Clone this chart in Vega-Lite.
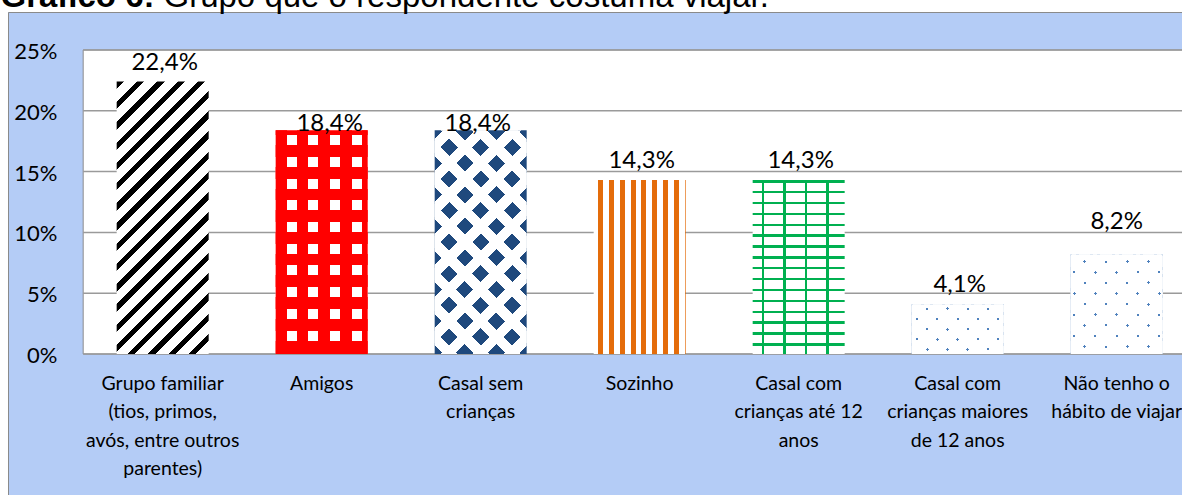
{
  "$schema": "https://vega.github.io/schema/vega-lite/v6.json",
  "width": 1174,
  "height": 483,
  "autosize": "none",
  "padding": {"left": 8, "top": 12, "right": 0, "bottom": 0},
  "background": "#ffffff",
  "config": {
    "view": {"fill": "#b4ccf6", "stroke": null},
    "locale": {"number": {"decimal": ",", "thousands": ".", "grouping": [3], "currency": ["R$", ""]}},
    "font": "Lato"
  },
  "datasets": {
    "bars": [
      {"cat": "Grupo familiar (tios, primos, avós, entre outros parentes)", "pct": 0.224},
      {"cat": "Amigos", "pct": 0.184},
      {"cat": "Casal sem crianças", "pct": 0.184},
      {"cat": "Sozinho", "pct": 0.143},
      {"cat": "Casal com crianças até 12 anos", "pct": 0.143},
      {"cat": "Casal com crianças maiores de 12 anos", "pct": 0.041},
      {"cat": "Não tenho o hábito de viajar", "pct": 0.082}
    ],
    "grid": [{"v": 0}, {"v": 0.05}, {"v": 0.1}, {"v": 0.15}, {"v": 0.2}, {"v": 0.25}],
    "frame": [{"part": "plot area"}]
  },
  "resolve": {"axis": {"x": "independent", "y": "independent"}},
  "layer": [
    {
      "data": {"name": "frame"},
      "mark": {"type": "rect", "fill": "#ffffff", "stroke": "#8c8c8c", "strokeWidth": 1},
      "encoding": {
        "x": {
          "datum": "Grupo familiar (tios, primos, avós, entre outros parentes)", "type": "nominal", "bandPosition": -0.3641,
          "scale": {"domain": ["Grupo familiar (tios, primos, avós, entre outros parentes)", "Amigos", "Casal sem crianças", "Sozinho", "Casal com crianças até 12 anos", "Casal com crianças maiores de 12 anos", "Não tenho o hábito de viajar"], "paddingInner": 0.42138, "paddingOuter": 0.40252, "align": 0.849, "round": false},
          "axis": {"orient": "top", "domain": true, "domainColor": "#8a8a8a", "domainWidth": 1, "labels": false, "ticks": false, "grid": false,
            "title": "Grupo que o respondente costuma viajar.", "titleX": 155, "titleY": -6, "titleAlign": "left", "titleAnchor": "start", "titleBaseline": "alphabetic",
            "titleFont": "Liberation Sans", "titleFontSize": 33, "titleFontWeight": "normal", "titleColor": "#000000", "titlePadding": 0}
        },
        "x2": {"datum": "Não tenho o hábito de viajar", "bandPosition": 1.3641},
        "y": {
          "datum": 0.25, "type": "quantitative",
          "scale": {"domain": [-0.115954, 0.28125], "nice": false, "zero": false},
          "axis": {"orient": "left", "domain": true, "domainColor": "#8a8a8a", "domainWidth": 1, "ticks": false, "tickSize": 0, "grid": false,
            "values": [0, 0.05, 0.1, 0.15, 0.2, 0.25], "format": ".0%", "labelPadding": -49, "labelFont": "Lato", "labelFontSize": 22, "labelColor": "#000000",
            "labelBaseline": "middle", "labelOffset": 1.5, "labelBound": false, "labelFlush": false, "labelOverlap": false,
            "title": "Gráfico 6:", "titleAngle": 0, "titleX": -8, "titleY": -6, "titleAlign": "left", "titleBaseline": "alphabetic",
            "titleFont": "Liberation Sans", "titleFontSize": 33, "titleFontWeight": "bold", "titleColor": "#000000", "titlePadding": 0}
        },
        "y2": {"datum": 0}
      }
    },
    {
      "data": {"name": "grid"},
      "mark": {"type": "rule", "stroke": "#9a9a9a", "strokeWidth": 1.5},
      "encoding": {
        "x": {
          "datum": "Grupo familiar (tios, primos, avós, entre outros parentes)", "type": "nominal", "bandPosition": -0.3641,
          "scale": {"domain": ["Grupo familiar (tios, primos, avós, entre outros parentes)", "Amigos", "Casal sem crianças", "Sozinho", "Casal com crianças até 12 anos", "Casal com crianças maiores de 12 anos", "Não tenho o hábito de viajar"], "paddingInner": 0.42138, "paddingOuter": 0.40252, "align": 0.849, "round": false},
          "axis": null
        },
        "x2": {"datum": "Não tenho o hábito de viajar", "bandPosition": 1.3641},
        "y": {"field": "v", "type": "quantitative", "scale": {"domain": [-0.115954, 0.28125], "nice": false, "zero": false}, "axis": null}
      }
    },
    {
      "data": {"name": "bars"},
      "mark": {"type": "bar"},
      "encoding": {
        "x": {
          "field": "cat", "type": "nominal",
          "scale": {"domain": ["Grupo familiar (tios, primos, avós, entre outros parentes)", "Amigos", "Casal sem crianças", "Sozinho", "Casal com crianças até 12 anos", "Casal com crianças maiores de 12 anos", "Não tenho o hábito de viajar"], "paddingInner": 0.42138, "paddingOuter": 0.40252, "align": 0.849, "round": false},
          "axis": {"orient": "bottom", "domain": false, "ticks": false, "tickSize": 0, "grid": false, "title": null, "labelAngle": 0, "labelAlign": "center", "labelBaseline": "top",
            "labelPadding": -121, "labelFont": "Lato", "labelFontSize": 19.5, "labelColor": "#000000", "labelLineHeight": 28.5, "labelLimit": 0, "labelOverlap": false, "labelBound": false, "labelFlush": false,
            "labelExpr": "{'Grupo familiar (tios, primos, avós, entre outros parentes)': ['Grupo familiar', '(tios, primos,', 'avós, entre outros', 'parentes)'], 'Amigos': ['Amigos'], 'Casal sem crianças': ['Casal sem', 'crianças'], 'Sozinho': ['Sozinho'], 'Casal com crianças até 12 anos': ['Casal com', 'crianças até 12', 'anos'], 'Casal com crianças maiores de 12 anos': ['Casal com', 'crianças maiores', 'de 12 anos'], 'Não tenho o hábito de viajar': ['Não tenho o', 'hábito de viajar']}[datum.label]"}
        },
        "y": {"field": "pct", "type": "quantitative", "scale": {"domain": [-0.115954, 0.28125], "nice": false, "zero": false}, "axis": null},
        "y2": {"datum": 0},
        "color": {
          "condition": [
            {"test": "datum.cat === 'Grupo familiar (tios, primos, avós, entre outros parentes)'", "value": {"gradient": "linear", "x1": 0, "y1": 0, "x2": 0.4056, "y2": 1.2008, "stops": [
              {"offset": 0, "color": "#000000"}, {"offset": 0.02, "color": "#000000"}, {"offset": 0.02, "color": "#ffffff"}, {"offset": 0.05556, "color": "#ffffff"},
              {"offset": 0.05556, "color": "#000000"}, {"offset": 0.07556, "color": "#000000"}, {"offset": 0.07556, "color": "#ffffff"}, {"offset": 0.11111, "color": "#ffffff"},
              {"offset": 0.11111, "color": "#000000"}, {"offset": 0.13111, "color": "#000000"}, {"offset": 0.13111, "color": "#ffffff"}, {"offset": 0.16667, "color": "#ffffff"},
              {"offset": 0.16667, "color": "#000000"}, {"offset": 0.18667, "color": "#000000"}, {"offset": 0.18667, "color": "#ffffff"}, {"offset": 0.22222, "color": "#ffffff"},
              {"offset": 0.22222, "color": "#000000"}, {"offset": 0.24222, "color": "#000000"}, {"offset": 0.24222, "color": "#ffffff"}, {"offset": 0.27778, "color": "#ffffff"},
              {"offset": 0.27778, "color": "#000000"}, {"offset": 0.29778, "color": "#000000"}, {"offset": 0.29778, "color": "#ffffff"}, {"offset": 0.33333, "color": "#ffffff"},
              {"offset": 0.33333, "color": "#000000"}, {"offset": 0.35333, "color": "#000000"}, {"offset": 0.35333, "color": "#ffffff"}, {"offset": 0.38889, "color": "#ffffff"},
              {"offset": 0.38889, "color": "#000000"}, {"offset": 0.40889, "color": "#000000"}, {"offset": 0.40889, "color": "#ffffff"}, {"offset": 0.44444, "color": "#ffffff"},
              {"offset": 0.44444, "color": "#000000"}, {"offset": 0.46444, "color": "#000000"}, {"offset": 0.46444, "color": "#ffffff"}, {"offset": 0.5, "color": "#ffffff"},
              {"offset": 0.5, "color": "#000000"}, {"offset": 0.52, "color": "#000000"}, {"offset": 0.52, "color": "#ffffff"}, {"offset": 0.55556, "color": "#ffffff"},
              {"offset": 0.55556, "color": "#000000"}, {"offset": 0.57556, "color": "#000000"}, {"offset": 0.57556, "color": "#ffffff"}, {"offset": 0.61111, "color": "#ffffff"},
              {"offset": 0.61111, "color": "#000000"}, {"offset": 0.63111, "color": "#000000"}, {"offset": 0.63111, "color": "#ffffff"}, {"offset": 0.66667, "color": "#ffffff"},
              {"offset": 0.66667, "color": "#000000"}, {"offset": 0.68667, "color": "#000000"}, {"offset": 0.68667, "color": "#ffffff"}, {"offset": 0.72222, "color": "#ffffff"},
              {"offset": 0.72222, "color": "#000000"}, {"offset": 0.74222, "color": "#000000"}, {"offset": 0.74222, "color": "#ffffff"}, {"offset": 0.77778, "color": "#ffffff"},
              {"offset": 0.77778, "color": "#000000"}, {"offset": 0.79778, "color": "#000000"}, {"offset": 0.79778, "color": "#ffffff"}, {"offset": 0.83333, "color": "#ffffff"},
              {"offset": 0.83333, "color": "#000000"}, {"offset": 0.85333, "color": "#000000"}, {"offset": 0.85333, "color": "#ffffff"}, {"offset": 0.88889, "color": "#ffffff"},
              {"offset": 0.88889, "color": "#000000"}, {"offset": 0.90889, "color": "#000000"}, {"offset": 0.90889, "color": "#ffffff"}, {"offset": 0.94444, "color": "#ffffff"},
              {"offset": 0.94444, "color": "#000000"}, {"offset": 0.96444, "color": "#000000"}, {"offset": 0.96444, "color": "#ffffff"}, {"offset": 1, "color": "#ffffff"}
            ]}},
            {"test": "datum.cat === 'Casal sem crianças'", "value": "#1f497d"},
            {"test": "datum.cat === 'Sozinho'", "value": {"gradient": "linear", "x1": 0, "y1": 0, "x2": 1, "y2": 0, "stops": [
              {"offset": 0, "color": "#ffffff"}, {"offset": 0.0489, "color": "#ffffff"}, {"offset": 0.0489, "color": "#e46c0a"}, {"offset": 0.1033, "color": "#e46c0a"},
              {"offset": 0.1033, "color": "#ffffff"}, {"offset": 0.1663, "color": "#ffffff"}, {"offset": 0.1663, "color": "#e46c0a"}, {"offset": 0.2207, "color": "#e46c0a"},
              {"offset": 0.2207, "color": "#ffffff"}, {"offset": 0.2837, "color": "#ffffff"}, {"offset": 0.2837, "color": "#e46c0a"}, {"offset": 0.338, "color": "#e46c0a"},
              {"offset": 0.338, "color": "#ffffff"}, {"offset": 0.4011, "color": "#ffffff"}, {"offset": 0.4011, "color": "#e46c0a"}, {"offset": 0.4554, "color": "#e46c0a"},
              {"offset": 0.4554, "color": "#ffffff"}, {"offset": 0.5185, "color": "#ffffff"}, {"offset": 0.5185, "color": "#e46c0a"}, {"offset": 0.5728, "color": "#e46c0a"},
              {"offset": 0.5728, "color": "#ffffff"}, {"offset": 0.6359, "color": "#ffffff"}, {"offset": 0.6359, "color": "#e46c0a"}, {"offset": 0.6902, "color": "#e46c0a"},
              {"offset": 0.6902, "color": "#ffffff"}, {"offset": 0.7533, "color": "#ffffff"}, {"offset": 0.7533, "color": "#e46c0a"}, {"offset": 0.8076, "color": "#e46c0a"},
              {"offset": 0.8076, "color": "#ffffff"}, {"offset": 0.8707, "color": "#ffffff"}, {"offset": 0.8707, "color": "#e46c0a"}, {"offset": 0.925, "color": "#e46c0a"},
              {"offset": 0.925, "color": "#ffffff"}, {"offset": 0.988, "color": "#ffffff"}, {"offset": 0.988, "color": "#e46c0a"}, {"offset": 1, "color": "#e46c0a"}
            ]}},
            {"test": "datum.cat === 'Casal com crianças maiores de 12 anos' || datum.cat === 'Não tenho o hábito de viajar'", "value": "#4f81bd"}
          ],
          "value": "#ffffff"
        }
      }
    },
    {
      "data": {"name": "bars"},
      "transform": [{"filter": {"field": "cat", "oneOf": ["Amigos", "Casal sem crianças", "Casal com crianças até 12 anos", "Casal com crianças maiores de 12 anos", "Não tenho o hábito de viajar"]}}],
      "mark": {"type": "bar"},
      "encoding": {
        "x": {"field": "cat", "type": "nominal",
          "scale": {"domain": ["Grupo familiar (tios, primos, avós, entre outros parentes)", "Amigos", "Casal sem crianças", "Sozinho", "Casal com crianças até 12 anos", "Casal com crianças maiores de 12 anos", "Não tenho o hábito de viajar"], "paddingInner": 0.42138, "paddingOuter": 0.40252, "align": 0.849, "round": false},
          "axis": null},
        "y": {"field": "pct", "type": "quantitative", "scale": {"domain": [-0.115954, 0.28125], "nice": false, "zero": false}, "axis": null},
        "y2": {"datum": 0},
        "color": {
          "condition": [
            {"test": "datum.cat === 'Amigos'", "value": {"gradient": "linear", "x1": 0, "y1": 0, "x2": 1, "y2": 0, "stops": [
              {"offset": 0, "color": "#ff0000"}, {"offset": 0.1196, "color": "#ff0000"}, {"offset": 0.1196, "color": "rgba(255,0,0,0)"}, {"offset": 0.2283, "color": "rgba(255,0,0,0)"},
              {"offset": 0.2283, "color": "#ff0000"}, {"offset": 0.3549, "color": "#ff0000"}, {"offset": 0.3549, "color": "rgba(255,0,0,0)"}, {"offset": 0.4636, "color": "rgba(255,0,0,0)"},
              {"offset": 0.4636, "color": "#ff0000"}, {"offset": 0.5902, "color": "#ff0000"}, {"offset": 0.5902, "color": "rgba(255,0,0,0)"}, {"offset": 0.6989, "color": "rgba(255,0,0,0)"},
              {"offset": 0.6989, "color": "#ff0000"}, {"offset": 0.8255, "color": "#ff0000"}, {"offset": 0.8255, "color": "rgba(255,0,0,0)"}, {"offset": 0.9342, "color": "rgba(255,0,0,0)"},
              {"offset": 0.9342, "color": "#ff0000"}, {"offset": 1, "color": "#ff0000"}
            ]}},
            {"test": "datum.cat === 'Casal sem crianças'", "value": {"gradient": "linear", "x1": 0, "y1": 0, "x2": 0.4963, "y2": 1.2071, "stops": [
              {"offset": 0, "color": "rgba(255,255,255,0)"}, {"offset": 0.027, "color": "rgba(255,255,255,0)"}, {"offset": 0.027, "color": "#ffffff"}, {"offset": 0.073, "color": "#ffffff"},
              {"offset": 0.073, "color": "rgba(255,255,255,0)"}, {"offset": 0.127, "color": "rgba(255,255,255,0)"}, {"offset": 0.127, "color": "#ffffff"}, {"offset": 0.173, "color": "#ffffff"},
              {"offset": 0.173, "color": "rgba(255,255,255,0)"}, {"offset": 0.227, "color": "rgba(255,255,255,0)"}, {"offset": 0.227, "color": "#ffffff"}, {"offset": 0.273, "color": "#ffffff"},
              {"offset": 0.273, "color": "rgba(255,255,255,0)"}, {"offset": 0.327, "color": "rgba(255,255,255,0)"}, {"offset": 0.327, "color": "#ffffff"}, {"offset": 0.373, "color": "#ffffff"},
              {"offset": 0.373, "color": "rgba(255,255,255,0)"}, {"offset": 0.427, "color": "rgba(255,255,255,0)"}, {"offset": 0.427, "color": "#ffffff"}, {"offset": 0.473, "color": "#ffffff"},
              {"offset": 0.473, "color": "rgba(255,255,255,0)"}, {"offset": 0.527, "color": "rgba(255,255,255,0)"}, {"offset": 0.527, "color": "#ffffff"}, {"offset": 0.573, "color": "#ffffff"},
              {"offset": 0.573, "color": "rgba(255,255,255,0)"}, {"offset": 0.627, "color": "rgba(255,255,255,0)"}, {"offset": 0.627, "color": "#ffffff"}, {"offset": 0.673, "color": "#ffffff"},
              {"offset": 0.673, "color": "rgba(255,255,255,0)"}, {"offset": 0.727, "color": "rgba(255,255,255,0)"}, {"offset": 0.727, "color": "#ffffff"}, {"offset": 0.773, "color": "#ffffff"},
              {"offset": 0.773, "color": "rgba(255,255,255,0)"}, {"offset": 0.827, "color": "rgba(255,255,255,0)"}, {"offset": 0.827, "color": "#ffffff"}, {"offset": 0.873, "color": "#ffffff"},
              {"offset": 0.873, "color": "rgba(255,255,255,0)"}, {"offset": 0.927, "color": "rgba(255,255,255,0)"}, {"offset": 0.927, "color": "#ffffff"}, {"offset": 0.973, "color": "#ffffff"},
              {"offset": 0.973, "color": "rgba(255,255,255,0)"}, {"offset": 1, "color": "rgba(255,255,255,0)"}
            ]}},
            {"test": "datum.cat === 'Casal com crianças até 12 anos'", "value": {"gradient": "linear", "x1": 0, "y1": 0, "x2": 0, "y2": 1, "stops": [
              {"offset": 0, "color": "#00b050"}, {"offset": 0.0138, "color": "#00b050"}, {"offset": 0.0138, "color": "rgba(0,176,80,0)"}, {"offset": 0.0625, "color": "rgba(0,176,80,0)"},
              {"offset": 0.0625, "color": "#00b050"}, {"offset": 0.0763, "color": "#00b050"}, {"offset": 0.0763, "color": "rgba(0,176,80,0)"}, {"offset": 0.125, "color": "rgba(0,176,80,0)"},
              {"offset": 0.125, "color": "#00b050"}, {"offset": 0.1388, "color": "#00b050"}, {"offset": 0.1388, "color": "rgba(0,176,80,0)"}, {"offset": 0.1875, "color": "rgba(0,176,80,0)"},
              {"offset": 0.1875, "color": "#00b050"}, {"offset": 0.2013, "color": "#00b050"}, {"offset": 0.2013, "color": "rgba(0,176,80,0)"}, {"offset": 0.25, "color": "rgba(0,176,80,0)"},
              {"offset": 0.25, "color": "#00b050"}, {"offset": 0.2638, "color": "#00b050"}, {"offset": 0.2638, "color": "rgba(0,176,80,0)"}, {"offset": 0.3125, "color": "rgba(0,176,80,0)"},
              {"offset": 0.3125, "color": "#00b050"}, {"offset": 0.3263, "color": "#00b050"}, {"offset": 0.3263, "color": "rgba(0,176,80,0)"}, {"offset": 0.375, "color": "rgba(0,176,80,0)"},
              {"offset": 0.375, "color": "#00b050"}, {"offset": 0.3888, "color": "#00b050"}, {"offset": 0.3888, "color": "rgba(0,176,80,0)"}, {"offset": 0.4375, "color": "rgba(0,176,80,0)"},
              {"offset": 0.4375, "color": "#00b050"}, {"offset": 0.4513, "color": "#00b050"}, {"offset": 0.4513, "color": "rgba(0,176,80,0)"}, {"offset": 0.5, "color": "rgba(0,176,80,0)"},
              {"offset": 0.5, "color": "#00b050"}, {"offset": 0.5138, "color": "#00b050"}, {"offset": 0.5138, "color": "rgba(0,176,80,0)"}, {"offset": 0.5625, "color": "rgba(0,176,80,0)"},
              {"offset": 0.5625, "color": "#00b050"}, {"offset": 0.5763, "color": "#00b050"}, {"offset": 0.5763, "color": "rgba(0,176,80,0)"}, {"offset": 0.625, "color": "rgba(0,176,80,0)"},
              {"offset": 0.625, "color": "#00b050"}, {"offset": 0.6388, "color": "#00b050"}, {"offset": 0.6388, "color": "rgba(0,176,80,0)"}, {"offset": 0.6875, "color": "rgba(0,176,80,0)"},
              {"offset": 0.6875, "color": "#00b050"}, {"offset": 0.7013, "color": "#00b050"}, {"offset": 0.7013, "color": "rgba(0,176,80,0)"}, {"offset": 0.75, "color": "rgba(0,176,80,0)"},
              {"offset": 0.75, "color": "#00b050"}, {"offset": 0.7638, "color": "#00b050"}, {"offset": 0.7638, "color": "rgba(0,176,80,0)"}, {"offset": 0.8125, "color": "rgba(0,176,80,0)"},
              {"offset": 0.8125, "color": "#00b050"}, {"offset": 0.8263, "color": "#00b050"}, {"offset": 0.8263, "color": "rgba(0,176,80,0)"}, {"offset": 0.875, "color": "rgba(0,176,80,0)"},
              {"offset": 0.875, "color": "#00b050"}, {"offset": 0.8888, "color": "#00b050"}, {"offset": 0.8888, "color": "rgba(0,176,80,0)"}, {"offset": 0.9375, "color": "rgba(0,176,80,0)"},
              {"offset": 0.9375, "color": "#00b050"}, {"offset": 0.9513, "color": "#00b050"}, {"offset": 0.9513, "color": "rgba(0,176,80,0)"}, {"offset": 1, "color": "rgba(0,176,80,0)"}
            ]}},
            {"test": "datum.cat === 'Casal com crianças maiores de 12 anos'", "value": {"gradient": "linear", "x1": 0, "y1": 0, "x2": 1.1919, "y2": 0.6459, "stops": [
              {"offset": 0, "color": "rgba(255,255,255,0)"}, {"offset": 0.01057, "color": "rgba(255,255,255,0)"}, {"offset": 0.01057, "color": "#ffffff"}, {"offset": 0.13229, "color": "#ffffff"},
              {"offset": 0.13229, "color": "rgba(255,255,255,0)"}, {"offset": 0.15343, "color": "rgba(255,255,255,0)"}, {"offset": 0.15343, "color": "#ffffff"}, {"offset": 0.27514, "color": "#ffffff"},
              {"offset": 0.27514, "color": "rgba(255,255,255,0)"}, {"offset": 0.29628, "color": "rgba(255,255,255,0)"}, {"offset": 0.29628, "color": "#ffffff"}, {"offset": 0.418, "color": "#ffffff"},
              {"offset": 0.418, "color": "rgba(255,255,255,0)"}, {"offset": 0.43914, "color": "rgba(255,255,255,0)"}, {"offset": 0.43914, "color": "#ffffff"}, {"offset": 0.56086, "color": "#ffffff"},
              {"offset": 0.56086, "color": "rgba(255,255,255,0)"}, {"offset": 0.582, "color": "rgba(255,255,255,0)"}, {"offset": 0.582, "color": "#ffffff"}, {"offset": 0.70372, "color": "#ffffff"},
              {"offset": 0.70372, "color": "rgba(255,255,255,0)"}, {"offset": 0.72486, "color": "rgba(255,255,255,0)"}, {"offset": 0.72486, "color": "#ffffff"}, {"offset": 0.84657, "color": "#ffffff"},
              {"offset": 0.84657, "color": "rgba(255,255,255,0)"}, {"offset": 0.86771, "color": "rgba(255,255,255,0)"}, {"offset": 0.86771, "color": "#ffffff"}, {"offset": 0.98943, "color": "#ffffff"},
              {"offset": 0.98943, "color": "rgba(255,255,255,0)"}, {"offset": 1, "color": "rgba(255,255,255,0)"}
            ]}},
            {"test": "datum.cat === 'Não tenho o hábito de viajar'", "value": {"gradient": "linear", "x1": 0, "y1": 0, "x2": 0.9582, "y2": 1.0385, "stops": [
              {"offset": 0, "color": "rgba(255,255,255,0)"}, {"offset": 0.00782, "color": "rgba(255,255,255,0)"}, {"offset": 0.00782, "color": "#ffffff"}, {"offset": 0.10329, "color": "#ffffff"},
              {"offset": 0.10329, "color": "rgba(255,255,255,0)"}, {"offset": 0.11893, "color": "rgba(255,255,255,0)"}, {"offset": 0.11893, "color": "#ffffff"}, {"offset": 0.2144, "color": "#ffffff"},
              {"offset": 0.2144, "color": "rgba(255,255,255,0)"}, {"offset": 0.23004, "color": "rgba(255,255,255,0)"}, {"offset": 0.23004, "color": "#ffffff"}, {"offset": 0.32551, "color": "#ffffff"},
              {"offset": 0.32551, "color": "rgba(255,255,255,0)"}, {"offset": 0.34115, "color": "rgba(255,255,255,0)"}, {"offset": 0.34115, "color": "#ffffff"}, {"offset": 0.43662, "color": "#ffffff"},
              {"offset": 0.43662, "color": "rgba(255,255,255,0)"}, {"offset": 0.45226, "color": "rgba(255,255,255,0)"}, {"offset": 0.45226, "color": "#ffffff"}, {"offset": 0.54774, "color": "#ffffff"},
              {"offset": 0.54774, "color": "rgba(255,255,255,0)"}, {"offset": 0.56338, "color": "rgba(255,255,255,0)"}, {"offset": 0.56338, "color": "#ffffff"}, {"offset": 0.65885, "color": "#ffffff"},
              {"offset": 0.65885, "color": "rgba(255,255,255,0)"}, {"offset": 0.67449, "color": "rgba(255,255,255,0)"}, {"offset": 0.67449, "color": "#ffffff"}, {"offset": 0.76996, "color": "#ffffff"},
              {"offset": 0.76996, "color": "rgba(255,255,255,0)"}, {"offset": 0.7856, "color": "rgba(255,255,255,0)"}, {"offset": 0.7856, "color": "#ffffff"}, {"offset": 0.88107, "color": "#ffffff"},
              {"offset": 0.88107, "color": "rgba(255,255,255,0)"}, {"offset": 0.89671, "color": "rgba(255,255,255,0)"}, {"offset": 0.89671, "color": "#ffffff"}, {"offset": 0.99218, "color": "#ffffff"},
              {"offset": 0.99218, "color": "rgba(255,255,255,0)"}, {"offset": 1, "color": "rgba(255,255,255,0)"}
            ]}}
          ],
          "value": "rgba(255,255,255,0)"
        }
      }
    },
    {
      "data": {"name": "bars"},
      "transform": [{"filter": {"field": "cat", "oneOf": ["Amigos", "Casal sem crianças", "Casal com crianças até 12 anos", "Casal com crianças maiores de 12 anos", "Não tenho o hábito de viajar"]}}],
      "mark": {"type": "bar"},
      "encoding": {
        "x": {"field": "cat", "type": "nominal",
          "scale": {"domain": ["Grupo familiar (tios, primos, avós, entre outros parentes)", "Amigos", "Casal sem crianças", "Sozinho", "Casal com crianças até 12 anos", "Casal com crianças maiores de 12 anos", "Não tenho o hábito de viajar"], "paddingInner": 0.42138, "paddingOuter": 0.40252, "align": 0.849, "round": false},
          "axis": null},
        "y": {"field": "pct", "type": "quantitative", "scale": {"domain": [-0.115954, 0.28125], "nice": false, "zero": false}, "axis": null},
        "y2": {"datum": 0},
        "color": {
          "condition": [
            {"test": "datum.cat === 'Amigos'", "value": {"gradient": "linear", "x1": 0, "y1": 0, "x2": 0, "y2": 1, "stops": [
              {"offset": 0, "color": "#ff0000"}, {"offset": 0.0223, "color": "#ff0000"}, {"offset": 0.0223, "color": "rgba(255,0,0,0)"}, {"offset": 0.0671, "color": "rgba(255,0,0,0)"},
              {"offset": 0.0671, "color": "#ff0000"}, {"offset": 0.1193, "color": "#ff0000"}, {"offset": 0.1193, "color": "rgba(255,0,0,0)"}, {"offset": 0.1641, "color": "rgba(255,0,0,0)"},
              {"offset": 0.1641, "color": "#ff0000"}, {"offset": 0.2163, "color": "#ff0000"}, {"offset": 0.2163, "color": "rgba(255,0,0,0)"}, {"offset": 0.2611, "color": "rgba(255,0,0,0)"},
              {"offset": 0.2611, "color": "#ff0000"}, {"offset": 0.3133, "color": "#ff0000"}, {"offset": 0.3133, "color": "rgba(255,0,0,0)"}, {"offset": 0.3581, "color": "rgba(255,0,0,0)"},
              {"offset": 0.3581, "color": "#ff0000"}, {"offset": 0.4103, "color": "#ff0000"}, {"offset": 0.4103, "color": "rgba(255,0,0,0)"}, {"offset": 0.4551, "color": "rgba(255,0,0,0)"},
              {"offset": 0.4551, "color": "#ff0000"}, {"offset": 0.5073, "color": "#ff0000"}, {"offset": 0.5073, "color": "rgba(255,0,0,0)"}, {"offset": 0.5521, "color": "rgba(255,0,0,0)"},
              {"offset": 0.5521, "color": "#ff0000"}, {"offset": 0.6044, "color": "#ff0000"}, {"offset": 0.6044, "color": "rgba(255,0,0,0)"}, {"offset": 0.6491, "color": "rgba(255,0,0,0)"},
              {"offset": 0.6491, "color": "#ff0000"}, {"offset": 0.7014, "color": "#ff0000"}, {"offset": 0.7014, "color": "rgba(255,0,0,0)"}, {"offset": 0.7461, "color": "rgba(255,0,0,0)"},
              {"offset": 0.7461, "color": "#ff0000"}, {"offset": 0.7984, "color": "#ff0000"}, {"offset": 0.7984, "color": "rgba(255,0,0,0)"}, {"offset": 0.8431, "color": "rgba(255,0,0,0)"},
              {"offset": 0.8431, "color": "#ff0000"}, {"offset": 0.8954, "color": "#ff0000"}, {"offset": 0.8954, "color": "rgba(255,0,0,0)"}, {"offset": 0.9401, "color": "rgba(255,0,0,0)"},
              {"offset": 0.9401, "color": "#ff0000"}, {"offset": 1, "color": "#ff0000"}
            ]}},
            {"test": "datum.cat === 'Casal sem crianças'", "value": {"gradient": "linear", "x1": 0, "y1": 1, "x2": 0.4963, "y2": -0.2071, "stops": [
              {"offset": 0, "color": "rgba(255,255,255,0)"}, {"offset": 0.027, "color": "rgba(255,255,255,0)"}, {"offset": 0.027, "color": "#ffffff"}, {"offset": 0.073, "color": "#ffffff"},
              {"offset": 0.073, "color": "rgba(255,255,255,0)"}, {"offset": 0.127, "color": "rgba(255,255,255,0)"}, {"offset": 0.127, "color": "#ffffff"}, {"offset": 0.173, "color": "#ffffff"},
              {"offset": 0.173, "color": "rgba(255,255,255,0)"}, {"offset": 0.227, "color": "rgba(255,255,255,0)"}, {"offset": 0.227, "color": "#ffffff"}, {"offset": 0.273, "color": "#ffffff"},
              {"offset": 0.273, "color": "rgba(255,255,255,0)"}, {"offset": 0.327, "color": "rgba(255,255,255,0)"}, {"offset": 0.327, "color": "#ffffff"}, {"offset": 0.373, "color": "#ffffff"},
              {"offset": 0.373, "color": "rgba(255,255,255,0)"}, {"offset": 0.427, "color": "rgba(255,255,255,0)"}, {"offset": 0.427, "color": "#ffffff"}, {"offset": 0.473, "color": "#ffffff"},
              {"offset": 0.473, "color": "rgba(255,255,255,0)"}, {"offset": 0.527, "color": "rgba(255,255,255,0)"}, {"offset": 0.527, "color": "#ffffff"}, {"offset": 0.573, "color": "#ffffff"},
              {"offset": 0.573, "color": "rgba(255,255,255,0)"}, {"offset": 0.627, "color": "rgba(255,255,255,0)"}, {"offset": 0.627, "color": "#ffffff"}, {"offset": 0.673, "color": "#ffffff"},
              {"offset": 0.673, "color": "rgba(255,255,255,0)"}, {"offset": 0.727, "color": "rgba(255,255,255,0)"}, {"offset": 0.727, "color": "#ffffff"}, {"offset": 0.773, "color": "#ffffff"},
              {"offset": 0.773, "color": "rgba(255,255,255,0)"}, {"offset": 0.827, "color": "rgba(255,255,255,0)"}, {"offset": 0.827, "color": "#ffffff"}, {"offset": 0.873, "color": "#ffffff"},
              {"offset": 0.873, "color": "rgba(255,255,255,0)"}, {"offset": 0.927, "color": "rgba(255,255,255,0)"}, {"offset": 0.927, "color": "#ffffff"}, {"offset": 0.973, "color": "#ffffff"},
              {"offset": 0.973, "color": "rgba(255,255,255,0)"}, {"offset": 1, "color": "rgba(255,255,255,0)"}
            ]}},
            {"test": "datum.cat === 'Casal com crianças até 12 anos'", "value": {"gradient": "linear", "x1": 0, "y1": 0, "x2": 1, "y2": 0, "stops": [
              {"offset": 0, "color": "rgba(0,176,80,0)"}, {"offset": 0.0978, "color": "rgba(0,176,80,0)"}, {"offset": 0.0978, "color": "#00b050"}, {"offset": 0.1239, "color": "#00b050"},
              {"offset": 0.1239, "color": "rgba(0,176,80,0)"}, {"offset": 0.3326, "color": "rgba(0,176,80,0)"}, {"offset": 0.3326, "color": "#00b050"}, {"offset": 0.3587, "color": "#00b050"},
              {"offset": 0.3587, "color": "rgba(0,176,80,0)"}, {"offset": 0.5674, "color": "rgba(0,176,80,0)"}, {"offset": 0.5674, "color": "#00b050"}, {"offset": 0.5935, "color": "#00b050"},
              {"offset": 0.5935, "color": "rgba(0,176,80,0)"}, {"offset": 0.8022, "color": "rgba(0,176,80,0)"}, {"offset": 0.8022, "color": "#00b050"}, {"offset": 0.8283, "color": "#00b050"},
              {"offset": 0.8283, "color": "rgba(0,176,80,0)"}, {"offset": 1, "color": "rgba(0,176,80,0)"}
            ]}},
            {"test": "datum.cat === 'Casal com crianças maiores de 12 anos'", "value": {"gradient": "linear", "x1": 0, "y1": 1, "x2": 1.1919, "y2": 0.3541, "stops": [
              {"offset": 0, "color": "rgba(255,255,255,0)"}, {"offset": 0.01057, "color": "rgba(255,255,255,0)"}, {"offset": 0.01057, "color": "#ffffff"}, {"offset": 0.13229, "color": "#ffffff"},
              {"offset": 0.13229, "color": "rgba(255,255,255,0)"}, {"offset": 0.15343, "color": "rgba(255,255,255,0)"}, {"offset": 0.15343, "color": "#ffffff"}, {"offset": 0.27514, "color": "#ffffff"},
              {"offset": 0.27514, "color": "rgba(255,255,255,0)"}, {"offset": 0.29628, "color": "rgba(255,255,255,0)"}, {"offset": 0.29628, "color": "#ffffff"}, {"offset": 0.418, "color": "#ffffff"},
              {"offset": 0.418, "color": "rgba(255,255,255,0)"}, {"offset": 0.43914, "color": "rgba(255,255,255,0)"}, {"offset": 0.43914, "color": "#ffffff"}, {"offset": 0.56086, "color": "#ffffff"},
              {"offset": 0.56086, "color": "rgba(255,255,255,0)"}, {"offset": 0.582, "color": "rgba(255,255,255,0)"}, {"offset": 0.582, "color": "#ffffff"}, {"offset": 0.70372, "color": "#ffffff"},
              {"offset": 0.70372, "color": "rgba(255,255,255,0)"}, {"offset": 0.72486, "color": "rgba(255,255,255,0)"}, {"offset": 0.72486, "color": "#ffffff"}, {"offset": 0.84657, "color": "#ffffff"},
              {"offset": 0.84657, "color": "rgba(255,255,255,0)"}, {"offset": 0.86771, "color": "rgba(255,255,255,0)"}, {"offset": 0.86771, "color": "#ffffff"}, {"offset": 0.98943, "color": "#ffffff"},
              {"offset": 0.98943, "color": "rgba(255,255,255,0)"}, {"offset": 1, "color": "rgba(255,255,255,0)"}
            ]}},
            {"test": "datum.cat === 'Não tenho o hábito de viajar'", "value": {"gradient": "linear", "x1": 0, "y1": 1, "x2": 0.9582, "y2": -0.0385, "stops": [
              {"offset": 0, "color": "rgba(255,255,255,0)"}, {"offset": 0.00782, "color": "rgba(255,255,255,0)"}, {"offset": 0.00782, "color": "#ffffff"}, {"offset": 0.10329, "color": "#ffffff"},
              {"offset": 0.10329, "color": "rgba(255,255,255,0)"}, {"offset": 0.11893, "color": "rgba(255,255,255,0)"}, {"offset": 0.11893, "color": "#ffffff"}, {"offset": 0.2144, "color": "#ffffff"},
              {"offset": 0.2144, "color": "rgba(255,255,255,0)"}, {"offset": 0.23004, "color": "rgba(255,255,255,0)"}, {"offset": 0.23004, "color": "#ffffff"}, {"offset": 0.32551, "color": "#ffffff"},
              {"offset": 0.32551, "color": "rgba(255,255,255,0)"}, {"offset": 0.34115, "color": "rgba(255,255,255,0)"}, {"offset": 0.34115, "color": "#ffffff"}, {"offset": 0.43662, "color": "#ffffff"},
              {"offset": 0.43662, "color": "rgba(255,255,255,0)"}, {"offset": 0.45226, "color": "rgba(255,255,255,0)"}, {"offset": 0.45226, "color": "#ffffff"}, {"offset": 0.54774, "color": "#ffffff"},
              {"offset": 0.54774, "color": "rgba(255,255,255,0)"}, {"offset": 0.56338, "color": "rgba(255,255,255,0)"}, {"offset": 0.56338, "color": "#ffffff"}, {"offset": 0.65885, "color": "#ffffff"},
              {"offset": 0.65885, "color": "rgba(255,255,255,0)"}, {"offset": 0.67449, "color": "rgba(255,255,255,0)"}, {"offset": 0.67449, "color": "#ffffff"}, {"offset": 0.76996, "color": "#ffffff"},
              {"offset": 0.76996, "color": "rgba(255,255,255,0)"}, {"offset": 0.7856, "color": "rgba(255,255,255,0)"}, {"offset": 0.7856, "color": "#ffffff"}, {"offset": 0.88107, "color": "#ffffff"},
              {"offset": 0.88107, "color": "rgba(255,255,255,0)"}, {"offset": 0.89671, "color": "rgba(255,255,255,0)"}, {"offset": 0.89671, "color": "#ffffff"}, {"offset": 0.99218, "color": "#ffffff"},
              {"offset": 0.99218, "color": "rgba(255,255,255,0)"}, {"offset": 1, "color": "rgba(255,255,255,0)"}
            ]}}
          ],
          "value": "rgba(255,255,255,0)"
        }
      }
    },
    {
      "data": {"name": "bars"},
      "transform": [{"filter": "datum.cat !== 'Amigos' && datum.cat !== 'Casal sem crianças' && datum.cat !== 'Não tenho o hábito de viajar'"}],
      "mark": {"type": "text", "font": "Lato", "fontSize": 24, "color": "#000000", "baseline": "alphabetic", "align": "center", "dy": -12, "dx": 2},
      "encoding": {
        "x": {"field": "cat", "type": "nominal",
          "scale": {"domain": ["Grupo familiar (tios, primos, avós, entre outros parentes)", "Amigos", "Casal sem crianças", "Sozinho", "Casal com crianças até 12 anos", "Casal com crianças maiores de 12 anos", "Não tenho o hábito de viajar"], "paddingInner": 0.42138, "paddingOuter": 0.40252, "align": 0.849, "round": false},
          "axis": null},
        "y": {"field": "pct", "type": "quantitative", "scale": {"domain": [-0.115954, 0.28125], "nice": false, "zero": false}, "axis": null},
        "text": {"field": "pct", "type": "quantitative", "format": ".1%"}
      }
    },
    {
      "data": {"name": "bars"},
      "transform": [{"filter": "datum.cat === 'Amigos'"}],
      "mark": {"type": "text", "font": "Lato", "fontSize": 24, "color": "#000000", "baseline": "alphabetic", "align": "center", "dy": 1, "dx": 8},
      "encoding": {
        "x": {"field": "cat", "type": "nominal",
          "scale": {"domain": ["Grupo familiar (tios, primos, avós, entre outros parentes)", "Amigos", "Casal sem crianças", "Sozinho", "Casal com crianças até 12 anos", "Casal com crianças maiores de 12 anos", "Não tenho o hábito de viajar"], "paddingInner": 0.42138, "paddingOuter": 0.40252, "align": 0.849, "round": false},
          "axis": null},
        "y": {"field": "pct", "type": "quantitative", "scale": {"domain": [-0.115954, 0.28125], "nice": false, "zero": false}, "axis": null},
        "text": {"field": "pct", "type": "quantitative", "format": ".1%"}
      }
    },
    {
      "data": {"name": "bars"},
      "transform": [{"filter": "datum.cat === 'Casal sem crianças'"}],
      "mark": {"type": "text", "font": "Lato", "fontSize": 24, "color": "#000000", "baseline": "alphabetic", "align": "center", "dy": 1, "dx": -3},
      "encoding": {
        "x": {"field": "cat", "type": "nominal",
          "scale": {"domain": ["Grupo familiar (tios, primos, avós, entre outros parentes)", "Amigos", "Casal sem crianças", "Sozinho", "Casal com crianças até 12 anos", "Casal com crianças maiores de 12 anos", "Não tenho o hábito de viajar"], "paddingInner": 0.42138, "paddingOuter": 0.40252, "align": 0.849, "round": false},
          "axis": null},
        "y": {"field": "pct", "type": "quantitative", "scale": {"domain": [-0.115954, 0.28125], "nice": false, "zero": false}, "axis": null},
        "text": {"field": "pct", "type": "quantitative", "format": ".1%"}
      }
    },
    {
      "data": {"name": "bars"},
      "transform": [{"filter": "datum.cat === 'Não tenho o hábito de viajar'"}],
      "mark": {"type": "text", "font": "Lato", "fontSize": 24, "color": "#000000", "baseline": "alphabetic", "align": "center", "dy": -25, "dx": 0},
      "encoding": {
        "x": {"field": "cat", "type": "nominal",
          "scale": {"domain": ["Grupo familiar (tios, primos, avós, entre outros parentes)", "Amigos", "Casal sem crianças", "Sozinho", "Casal com crianças até 12 anos", "Casal com crianças maiores de 12 anos", "Não tenho o hábito de viajar"], "paddingInner": 0.42138, "paddingOuter": 0.40252, "align": 0.849, "round": false},
          "axis": null},
        "y": {"field": "pct", "type": "quantitative", "scale": {"domain": [-0.115954, 0.28125], "nice": false, "zero": false}, "axis": null},
        "text": {"field": "pct", "type": "quantitative", "format": ".1%"}
      }
    }
  ]
}
